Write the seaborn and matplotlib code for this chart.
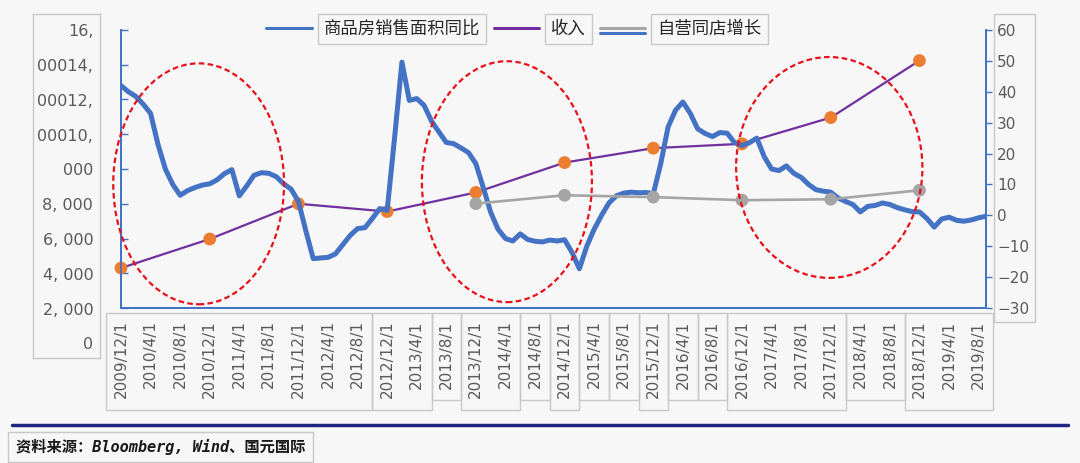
import matplotlib
matplotlib.use("Agg")
import numpy as np
import pandas as pd
import matplotlib.pyplot as plt
import matplotlib.patheffects as pe
import matplotlib.transforms as mtransforms
from matplotlib.patches import Ellipse, Rectangle
from matplotlib.lines import Line2D
import seaborn as sns

# monthly series, 2009/12 .. 2019/9 (right axis, %)
area_yoy = [42, 40, 38.5, 36, 33, 23, 15, 10, 6.5, 8,
            9, 9.8, 10.2, 11.5, 13.5, 14.8, 6.3, 9.5, 13, 13.8,
            13.6, 12.5, 10.2, 8.5, 4.5, -5, -14, -13.8, -13.6, -12.5,
            -9.5, -6.5, -4.3, -4, -1, 2.2, 1.6, 25, 49.6, 37.2,
            37.8, 35.6, 30.5, 27, 23.6, 23.2, 21.8, 20.3, 16.7, 9,
            1, -4.5, -7.5, -8.3, -6, -7.8, -8.4, -8.6, -8, -8.3,
            -7.9, -12, -17.3, -10, -4.5, 0, 4, 6.3, 7.2, 7.5,
            7.3, 7.4, 7, 16.7, 28.6, 34, 36.7, 33, 28, 26.5,
            25.5, 26.8, 26.6, 23.5, 22.6, 23.5, 25, 19, 15, 14.5,
            16, 13.6, 12.3, 10, 8.3, 7.8, 7.5, 5.6, 4.5, 3.5,
            1.1, 2.9, 3.2, 4, 3.5, 2.5, 1.8, 1.2, 1.1, -1,
            -3.8, -1.2, -0.6, -1.6, -1.9, -1.5, -0.8, -0.3]

# yearly revenue at each December (left axis)
rev_years = [2009, 2010, 2011, 2012, 2013, 2014, 2015, 2016, 2017, 2018]
revenue = [2300, 3970, 6000, 5550, 6650, 8370, 9200, 9450, 10960, 14240]

# same-store growth at each December (right axis, %)
sss_years = [2013, 2014, 2015, 2016, 2017, 2018]
sss = [3.8, 6.5, 5.9, 4.9, 5.2, 8.1]

tick_labels = ["2009/12/1", "2010/4/1", "2010/8/1", "2010/12/1", "2011/4/1", "2011/8/1",
               "2011/12/1", "2012/4/1", "2012/8/1", "2012/12/1", "2013/4/1", "2013/8/1",
               "2013/12/1", "2014/4/1", "2014/8/1", "2014/12/1", "2015/4/1", "2015/8/1",
               "2015/12/1", "2016/4/1", "2016/8/1", "2016/12/1", "2017/4/1", "2017/8/1",
               "2017/12/1", "2018/4/1", "2018/8/1", "2018/12/1", "2019/4/1", "2019/8/1"]

# the (garbled) left-axis label column as it appears
left_labels = ["0", "2, 000", "4, 000", "6, 000", "8, 000", "000",
               "00010,", "00012,", "00014,", "16,"]
right_ticks = [-30, -20, -10, 0, 10, 20, 30, 40, 50, 60]

legend_labels = ["商品房销售面积同比", "收入", "自营同店增长"]
source = "资料来源：Bloomberg, Wind、国元国际"

BG = "#f7f7f7"
BLUE = "#4472c4"
PURPLE = "#7030a0"
ORANGE = "#ed7d31"
GRAY = "#a5a5a5"
TXT = "#595959"
BOX = "#c8c8c8"

sns.set_style("white")
plt.rcParams["font.family"] = ["DejaVu Sans", "Noto Sans CJK SC"]
plt.rcParams["axes.unicode_minus"] = True

W, H = 1080, 463
def fx(px):
    return px / W
def fy(py):
    return 1 - py / H

df_area = pd.DataFrame({"m": np.arange(len(area_yoy)), "v": area_yoy})
df_rev = pd.DataFrame({"m": [(y - 2009) * 12 for y in rev_years], "v": revenue})
df_sss = pd.DataFrame({"m": [(y - 2009) * 12 for y in sss_years], "v": sss})

fig = plt.figure(figsize=(W / 100, H / 100), dpi=100)
fig.patch.set_facecolor(BG)

ax = fig.add_axes([fx(121), fy(308), (986 - 121) / W, (308 - 30) / H])
ax.set_facecolor(BG)
ax2 = ax.twinx()

# revenue on the left scale
sns.lineplot(data=df_rev, x="m", y="v", ax=ax, color=PURPLE, linewidth=1.6)
sns.scatterplot(data=df_rev, x="m", y="v", ax=ax, color=ORANGE, s=85,
                edgecolor="none", zorder=5, clip_on=False)
ax.set_ylim(0, 16000)
ax.set_yticks(np.arange(0, 16001, 2000))
ax.set_yticklabels([])

# area yoy + same store growth on right scale
sns.lineplot(data=df_area, x="m", y="v", ax=ax2, color=BLUE, linewidth=3.6)
sns.lineplot(data=df_sss, x="m", y="v", ax=ax2, color=GRAY, linewidth=1.9)
sns.scatterplot(data=df_sss, x="m", y="v", ax=ax2, color=GRAY, s=85,
                edgecolor="none", zorder=5, clip_on=False)
ax2.set_ylim(-30, 60)
ax2.set_yticks(right_ticks)
ax2.set_yticklabels([str(t).replace("-", "\u2212") for t in right_ticks])

ax.set_xlim(0, len(area_yoy) - 1)
ax.set_xticks(np.arange(0, len(area_yoy), 4))
ax.set_xticklabels(tick_labels, rotation=90, fontsize=11, color=TXT)
for a in (ax, ax2):
    a.set_xlabel("")
    a.set_ylabel("")
    for s in a.spines.values():
        s.set_color(BLUE)
        s.set_linewidth(1.3)
    a.spines["top"].set_visible(False)
ax.tick_params(axis="x", direction="out", length=4, width=1, color=BLUE, pad=5)
ax.tick_params(axis="y", direction="in", length=5, width=1, color=BLUE)
ax2.tick_params(axis="y", direction="out", length=4, width=1, color=BLUE,
                labelsize=11, labelcolor=TXT, pad=4)

# red dashed ellipses
for cx, cy, w, h in [(10.5, 10.2, 23.1, 78), (52.2, 10.9, 23, 78), (95.8, 15.5, 25.2, 71.5)]:
    ax2.add_patch(Ellipse((cx, cy), w, h, fill=False, edgecolor="#e8101a",
                          linewidth=1.6, linestyle=(0, (2.5, 1.5)), zorder=6, clip_on=False))

# tick label boxes along the bottom
blend = mtransforms.blended_transform_factory(ax.transData, fig.transFigure)
groups = [(0, 8, 1), (9, 10, 1), (11, 11, 0), (12, 13, 1), (14, 14, 0), (15, 15, 1),
          (16, 16, 0), (17, 17, 0), (18, 18, 1), (19, 19, 0), (20, 20, 0),
          (21, 24, 1), (25, 26, 0), (27, 29, 1)]
for i0, i1, tall in groups:
    bottom = 410 if tall else 400
    x0 = i0 * 4 - 2
    fig.add_artist(Rectangle((x0, fy(bottom)), (i1 - i0 + 1) * 4, fy(313) - fy(bottom),
                             transform=blend, fill=False, edgecolor=BOX, linewidth=1))

# right label box
fig.add_artist(Rectangle((fx(994), fy(322)), fx(1035) - fx(994), fy(14) - fy(322),
                         transform=fig.transFigure, fill=False, edgecolor=BOX, linewidth=1))

# left label column
axl = fig.add_axes([fx(33), fy(358), (100 - 33) / W, (358 - 14) / H])
axl.set_facecolor(BG)
axl.set_xlim(0, 1)
axl.set_ylim(-0.374, 9.51)
axl.set_xticks([])
axl.set_yticks([])
for s in axl.spines.values():
    s.set_color(BOX)
    s.set_linewidth(1)
for i, lab in enumerate(left_labels):
    axl.text(0.9, i, lab, ha="right", va="center", fontsize=11.5, color=TXT)

# legend
h1 = Line2D([], [], color=BLUE, linewidth=2.2)
h2 = Line2D([], [], color=PURPLE, linewidth=2.2)
h3 = Line2D([], [], color=GRAY, linewidth=2.2,
            path_effects=[pe.SimpleLineShadow(offset=(0, -4), shadow_color=BLUE, alpha=1),
                          pe.Normal()])
leg = fig.legend([h1, h2, h3], legend_labels, loc="center",
                 bbox_to_anchor=(fx(514), fy(29)), ncol=3, frameon=False,
                 fontsize=12.5, handlelength=2.6, handletextpad=0.7, columnspacing=0.8)
for t in leg.get_texts():
    t.set_color("#262626")
    t.set_bbox(dict(boxstyle="square,pad=0.35", facecolor=BG, edgecolor=BOX, linewidth=1))

# footer
fig.add_artist(Line2D([fx(12), fx(1068)], [fy(425), fy(425)], transform=fig.transFigure,
                      color="#1c2580", linewidth=2.5))
fig.add_artist(Rectangle((fx(8), fy(462)), fx(313) - fx(8), fy(432) - fy(462),
                         transform=fig.transFigure, fill=False, edgecolor=BOX, linewidth=1))
fig.text(fx(16), fy(447), source, ha="left", va="center", fontsize=11,
         style="italic", weight="bold", color="#1a1a1a",
         family=["DejaVu Sans Mono", "Noto Sans CJK SC"])

fig.savefig("out.png", dpi=100, facecolor=BG)
